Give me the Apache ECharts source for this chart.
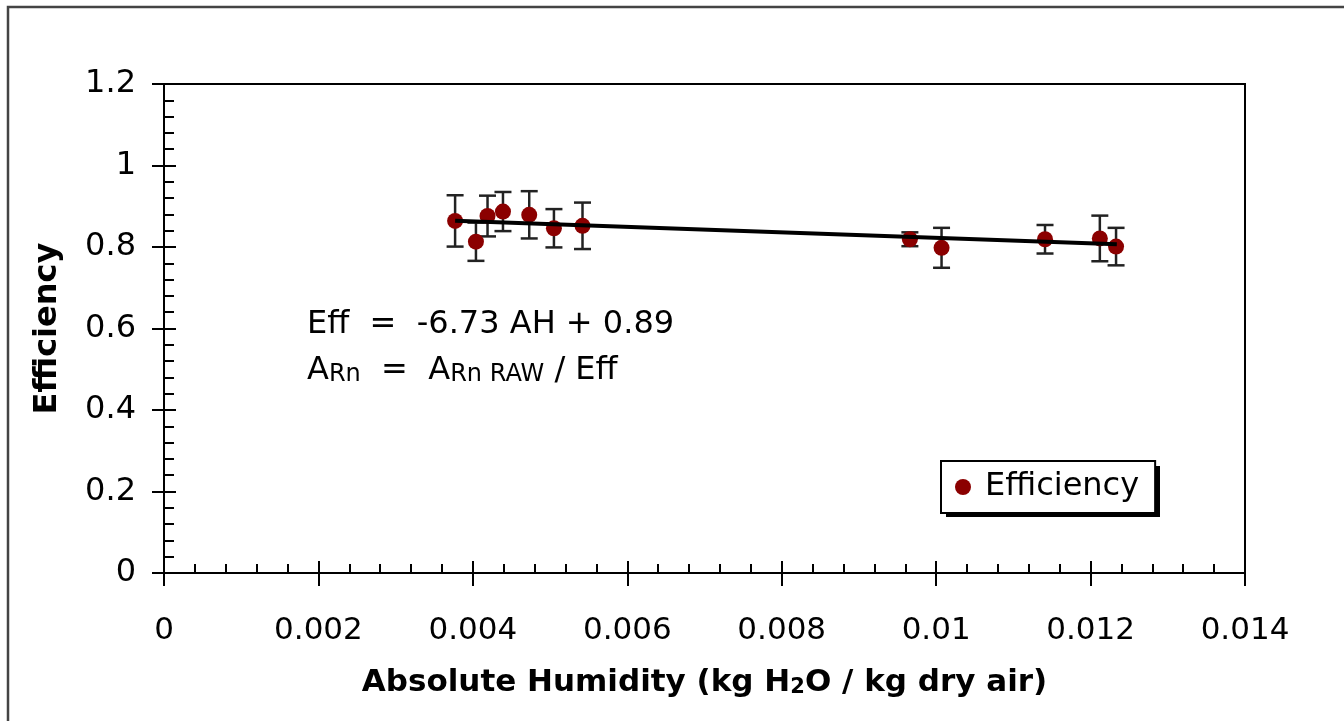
<!DOCTYPE html>
<html>
<head>
<meta charset="utf-8">
<script src="https://cdn.jsdelivr.net/npm/echarts@6/dist/echarts.min.js"></script>
<style>
html,body{margin:0;padding:0;background:#fff;}
#chart{width:1344px;height:721px;}
</style>
</head>
<body>
<div id="chart"></div>
<script>
// ---- data ----
const humidity   = [0.00377, 0.00404, 0.00419, 0.00439, 0.00473, 0.00505, 0.00542, 0.00966, 0.01007, 0.01141, 0.01212, 0.01233];
const efficiency = [0.864, 0.813, 0.876, 0.887, 0.879, 0.846, 0.852, 0.819, 0.798, 0.819, 0.821, 0.801];
const errors     = [0.063, 0.047, 0.050, 0.048, 0.058, 0.047, 0.057, 0.017, 0.049, 0.035, 0.056, 0.046];
const trendX     = [0.00377, 0.01234];
const trendY     = [0.8646, 0.8069];
const xTicks = {min: 0, max: 0.014, interval: 0.002};
const yTicks = {min: 0, max: 1.2, interval: 0.2};
const seriesName = 'Efficiency';
const xTitle = 'Absolute Humidity (kg H{sub|2}O / kg dry air)';
const yTitle = 'Efficiency';

const FONT = '"DejaVu Sans", "Liberation Sans", Arial, sans-serif';

const pointData = humidity.map((h, i) => [h, efficiency[i]]);
const errData = humidity.map((h, i) => [h, efficiency[i], errors[i]]);
const trendData = trendX.map((x, i) => [x, trendY[i]]);

const chart = echarts.init(document.getElementById('chart'));

function baseAxis(t) {
  return {type: 'value', min: t.min, max: t.max, interval: t.interval, gridIndex: 0, splitLine: {show: false}};
}

const option = {
  backgroundColor: '#fff',
  animation: false,
  textStyle: {fontFamily: FONT},
  grid: {left: 164, right: 99, top: 84, bottom: 148, show: true, borderColor: '#000', borderWidth: 2, backgroundColor: 'transparent'},
  legend: {
    data: [seriesName],
    left: 941, top: 461,
    orient: 'vertical',
    padding: [10, 16, 10, 14],
    backgroundColor: '#fff',
    borderColor: '#000', borderWidth: 2, borderRadius: 0,
    itemWidth: 16, itemHeight: 16,
    icon: 'circle',
    textStyle: {fontFamily: FONT, fontSize: 32, color: '#000', padding: [0, 0, 0, 9]},
    z: 5
  },
  xAxis: [
    Object.assign(baseAxis(xTicks), {
      position: 'bottom',
      axisLine: {show: true, onZero: false, lineStyle: {color: '#000', width: 2}},
      axisTick: {show: true, inside: true, length: 12, lineStyle: {color: '#000', width: 2}},
      minorTick: {show: true, splitNumber: 5, length: 9, lineStyle: {color: '#000', width: 2}},
      axisLabel: {fontFamily: FONT, fontSize: 31, color: '#000', margin: 42},
      name: xTitle, nameLocation: 'middle', nameGap: 94,
      nameTextStyle: {
        fontFamily: FONT, fontSize: 31, fontWeight: 'bold', color: '#000',
        rich: {sub: {fontFamily: FONT, fontSize: 21, fontWeight: 'bold', color: '#000', lineHeight: 21, verticalAlign: 'bottom'}}
      }
    }),
    Object.assign(baseAxis(xTicks), {
      position: 'bottom',
      axisLine: {show: false, onZero: false},
      axisTick: {show: true, inside: false, length: 13, lineStyle: {color: '#000', width: 2}},
      axisLabel: {show: false}
    })
  ],
  yAxis: [
    Object.assign(baseAxis(yTicks), {
      position: 'left',
      axisLine: {show: true, onZero: false, lineStyle: {color: '#000', width: 2}},
      axisTick: {show: true, inside: true, length: 12, lineStyle: {color: '#000', width: 2}},
      minorTick: {show: true, splitNumber: 5, length: 10, lineStyle: {color: '#000', width: 2}},
      axisLabel: {fontFamily: FONT, fontSize: 32, color: '#000', margin: 28},
      name: yTitle, nameLocation: 'middle', nameGap: 100,
      nameTextStyle: {fontFamily: FONT, fontSize: 32, fontWeight: 'bold', color: '#000'}
    }),
    Object.assign(baseAxis(yTicks), {
      position: 'left',
      axisLine: {show: false, onZero: false},
      axisTick: {show: true, inside: false, length: 12, lineStyle: {color: '#000', width: 2}},
      axisLabel: {show: false}
    })
  ],
  series: [
    {
      name: 'errors',
      type: 'custom',
      xAxisIndex: 0, yAxisIndex: 0,
      data: errData,
      z: 2,
      renderItem: function (params, api) {
        const x = api.value(0), y = api.value(1), e = api.value(2);
        const top = api.coord([x, y + e]);
        const bot = api.coord([x, y - e]);
        const hw = 8.5;
        const st = {stroke: '#222', lineWidth: 2.5};
        return {
          type: 'group',
          children: [
            {type: 'line', shape: {x1: top[0], y1: top[1], x2: bot[0], y2: bot[1]}, style: st},
            {type: 'line', shape: {x1: top[0] - hw, y1: top[1], x2: top[0] + hw, y2: top[1]}, style: st},
            {type: 'line', shape: {x1: bot[0] - hw, y1: bot[1], x2: bot[0] + hw, y2: bot[1]}, style: st}
          ]
        };
      }
    },
    {
      name: seriesName,
      type: 'scatter',
      xAxisIndex: 0, yAxisIndex: 0,
      data: pointData,
      symbol: 'circle',
      symbolSize: 16,
      itemStyle: {color: '#8B0000', opacity: 1},
      z: 3
    },
    {
      name: 'trend',
      type: 'line',
      xAxisIndex: 0, yAxisIndex: 0,
      data: trendData,
      showSymbol: false,
      symbol: 'none',
      lineStyle: {color: '#000', width: 4},
      z: 4
    }
  ],
  graphic: [
    {
      type: 'rect',
      shape: {x: 8, y: 7, width: 1400, height: 800},
      style: {fill: 'none', stroke: '#444', lineWidth: 2.5},
      silent: true, z: 0
    },
    {
      // legend drop shadow
      type: 'rect',
      shape: {x: 946, y: 466, width: 214, height: 51},
      style: {fill: '#000'},
      silent: true, z: 0
    },
    {
      type: 'text',
      left: 307, top: 309,
      style: {text: 'Eff  =  -6.73 AH + 0.89', font: '32px ' + FONT, fill: '#000'},
      z: 10
    },
    {
      type: 'text',
      left: 307, top: 355,
      style: {
        text: '{n|A}{s|Rn}{n|  =  A}{s|Rn RAW}{n| / Eff}',
        fill: '#000',
        rich: {
          n: {fontFamily: FONT, fontSize: 32, lineHeight: 36, verticalAlign: 'bottom', fill: '#000'},
          s: {fontFamily: FONT, fontSize: 24, lineHeight: 22, verticalAlign: 'bottom', fill: '#000'}
        }
      },
      z: 10
    }
  ]
};
chart.setOption(option);
</script>
</body>
</html>
